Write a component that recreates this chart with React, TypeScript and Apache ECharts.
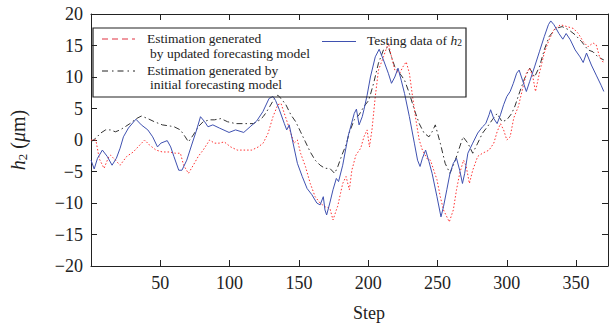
import React, { useEffect, useRef } from "react";
import * as echarts from "echarts";

const testSteps = [0, 2.3, 4.7, 8.2, 11.7, 15.2, 18.3, 21, 23.4, 27, 32.4, 36.3, 41, 44.5, 48, 50.4, 52.7, 55, 57.5, 59.8, 63.3, 65.6, 69.1, 72.6, 76.2, 79, 82, 84.4, 87.9, 92.6, 99.6, 104.3, 110.2, 114.8, 119.5, 124, 128.5, 131.3, 133.1, 135.9, 139.5, 141.2, 143, 145.3, 148.9, 152.4, 155.9, 159.4, 162.9, 165.3, 167.6, 168.8, 170, 172.3, 174.6, 177, 178.6, 181.6, 185.5, 189.9, 191.5, 193.4, 195.7, 196.9, 199.2, 201.6, 205.1, 207.9, 211, 214.5, 216.8, 219.2, 221.5, 223.8, 226.2, 229.7, 233.3, 235.6, 237.4, 239.1, 241.4, 243.8, 246.1, 249.6, 252.5, 254.3, 256.7, 259, 261.4, 263.7, 266, 268, 269.6, 271.9, 275.4, 279, 282.5, 284.8, 287.2, 288.3, 290.6, 293, 295.4, 297.7, 300, 302.4, 304.7, 307.1, 308.9, 311.3, 314.1, 316.5, 320, 323.5, 327, 330, 331.7, 334, 337.6, 340.4, 342.8, 345.8, 349.3, 352.8, 355.1, 357.5, 361, 364.5, 368, 370];
const testValues = [-3.2, -4.6, -2.9, -1.6, -2.6, -4, -2.9, -1.3, 0.5, 1.9, 3.3, 2.4, 1.6, 0.5, -1.1, -0.5, -0.3, -0.1, -1.1, -2.6, -4.8, -4.8, -3.2, -0.8, 1.6, 3.7, 2.9, 2.1, 2.4, 1.9, 1.2, 1.6, 1.2, 2.1, 3.0, 4.5, 6.6, 6.9, 6.3, 4.8, 2.6, 1.6, 2.4, 0, -3.7, -5.8, -7.7, -8.7, -10, -10.3, -9, -11.1, -11.9, -10, -7.9, -6.1, -6.6, -4.0, 0.6, 4.2, 4.9, 2.4, 3.7, 4.8, 7.1, 10, 13.2, 14.4, 12.7, 10.6, 9, 10, 11.4, 9.5, 7.4, 3.7, -0.5, -3.2, -4.2, -2.9, -1.6, -3.4, -5.3, -9, -12.2, -10.6, -7.9, -5.3, -3.7, -2.9, -4.8, -6.9, -5.3, -2.1, -0.5, 1.1, 2.1, 2.6, 4, 4.8, 3.4, 2.6, 4, 5.6, 6.9, 7.7, 9.0, 10.6, 11.1, 9.5, 7.7, 9.3, 11.6, 14, 16.4, 18.3, 18.9, 18.3, 16.9, 16, 16.9, 15.9, 14.3, 13.2, 12.3, 13.8, 11.9, 10.3, 8.7, 7.7];

const updatedSteps = [0, 3.5, 6, 9.4, 12.9, 14, 17.6, 21, 25.8, 30.5, 35.2, 38.7, 42.2, 46.9, 51.5, 56.3, 61, 64.5, 66.8, 70.3, 73.8, 77.4, 80.9, 85.6, 89, 92.6, 96.1, 100.8, 105.5, 110.2, 116, 120.7, 124.2, 127.8, 131.3, 134.8, 137.1, 139.5, 143, 146.5, 148.9, 151.2, 154.7, 158.2, 161.7, 165.3, 168.8, 172.3, 174.6, 177, 178, 180, 181.6, 184, 186.4, 188.2, 191.1, 194.6, 196.9, 199.2, 200.9, 202.7, 205.1, 207.4, 211, 214.5, 216.8, 219.2, 222.7, 225, 227.4, 229.7, 232, 234.4, 236.8, 239.1, 242.6, 244.9, 247.3, 249.6, 252, 254.3, 258.5, 261.4, 263.7, 266, 268.8, 270.7, 273, 275.4, 279, 282.5, 287.2, 290.6, 293, 295.4, 297.7, 300, 302.4, 305, 308.3, 311.8, 314.1, 316.5, 318.8, 320.7, 323.5, 327, 330.5, 334, 338.7, 343.4, 348.1, 351.6, 355.1, 358.6, 362.2, 364.5, 366.9, 370];
const updatedValues = [0, 0, -3, -4.5, -2.6, -2.4, -3.2, -4, -2.6, -1.9, -0.8, 0, -0.8, -1.6, -1.9, -1.9, -2.1, -2.1, -4, -5.3, -4, -2.6, -1.6, 0, -0.5, -0.5, -0.3, -1.1, -1.6, -1.6, -1.6, -1.1, -0.5, 1.1, 3.7, 5.6, 5.8, 4.2, 1.9, -0.5, 0, -2.1, -4.2, -6.9, -9, -10, -10.6, -10.8, -12.7, -11.1, -10.5, -8.5, -6.9, -5.8, -7.9, -4.8, -2.4, -1.3, 0.5, 1.6, -1.1, 1.6, 6.9, 11.1, 13.2, 15.4, 13.2, 11.1, 10.6, 11.6, 12.4, 10.6, 6.9, 3.2, 0, -1.6, -3, -3.2, -4.8, -6.3, -9, -11.1, -13, -11.1, -7.9, -5.3, -3.2, -4.2, -6.9, -4.8, -2.6, -2.1, -1.6, -0.5, 1.3, 2.6, 1.6, 0, 0.5, 3.5, 5.3, 8.5, 10.6, 11.4, 10, 7.7, 10.6, 13.8, 15.9, 17.5, 18.3, 18, 17.7, 16.9, 15.6, 14.8, 15.4, 15.1, 13.2, 12.2];

const initialSteps = [0, 3.5, 7, 10.5, 14, 17.6, 21, 24.6, 28.1, 32.8, 36.3, 41, 45.7, 51.5, 57.4, 60, 64.5, 68, 70.3, 73.8, 77.4, 80.9, 85.6, 89, 93.7, 98.5, 104.3, 110.2, 117.2, 121.9, 124.2, 126.5, 128.9, 132.4, 134.8, 137.1, 140.6, 144.2, 147.7, 151.2, 154.7, 158.2, 161.7, 165.3, 168.8, 172.3, 175.8, 178.1, 181, 184, 186.4, 189.9, 193.4, 196.9, 200.4, 203.9, 207.4, 211, 214.5, 216.8, 219.2, 222.7, 226.2, 229.7, 233.3, 236.8, 240.3, 243.8, 246.1, 248.4, 252, 255.5, 259, 262.5, 266, 268.4, 271.9, 275.4, 279, 282.5, 286, 289.5, 293, 296.6, 300, 303.5, 305.9, 309.4, 312.9, 316.5, 320, 323.5, 327, 330.5, 335.2, 339.9, 344.6, 349.3, 354, 358.6, 362.2, 365.7, 370];
const initialValues = [-0.3, 0.3, 1.1, 1.6, 1.6, 1.3, 1.6, 2.1, 2.6, 3.4, 3.8, 3.4, 2.9, 2.4, 2.2, 2.1, 1.6, 0.5, -0.3, 0.8, 2.1, 2.9, 3.2, 3.2, 3.4, 2.9, 2.6, 2.6, 2.6, 3.2, 3.7, 4.4, 5.3, 6.6, 7.1, 6.6, 5.6, 4, 2.9, 1.3, -0.3, -1.9, -3.2, -4, -4.5, -4.5, -5.3, -4.2, -2.4, -0.8, 1.2, 3.2, 4, 5.3, 6.3, 9, 12.2, 14.3, 14.8, 13.2, 11.6, 10.6, 9.5, 7.4, 4.8, 2.6, 1.1, 0.5, 1.3, 2.4, -0.5, -3.7, -5.3, -3.4, -1.1, 0.5, -0.5, -2.1, -0.5, 1.1, 2.1, 3.2, 4.2, 2.9, 3.2, 4.2, 5.4, 7.7, 9.8, 11.4, 10, 11.6, 14.3, 16.4, 17.7, 18, 17.5, 16.7, 15.6, 14.3, 14, 13.2, 12.7];

const xTickValues = [50, 100, 150, 200, 250, 300, 350];
const yMin = -20;
const yMax = 20;
const xMax = 373;

const FONT = "'Liberation Serif', 'DejaVu Serif', serif";

function pairs(xs: number[], ys: number[]) {
  return xs.map((x, i) => [x, ys[i]]);
}

function fmtY(v: number) {
  return v < 0 ? "\u2212" + Math.abs(v) : String(v);
}

export default function App() {
  const ref = useRef<HTMLDivElement>(null);
  useEffect(() => {
    document.body.style.margin = "0";
    document.body.style.overflow = "hidden";
    const chart = echarts.init(ref.current!, null, { renderer: "svg" });
    const axisLine = { show: true, onZero: false, lineStyle: { color: "#222", width: 1 } };
    const tick = { show: true, inside: true, length: 6, lineStyle: { color: "#222", width: 1 } };
    chart.setOption({
      animation: false,
      backgroundColor: "#fff",
      grid: { left: 85, top: 14, right: -5, bottom: 62, containLabel: false },
      xAxis: [
        {
          type: "value",
          min: 0,
          max: xMax,
          interval: 50,
          position: "bottom",
          axisLine,
          axisTick: tick,
          splitLine: { show: false },
          axisLabel: {
            margin: 8,
            fontFamily: FONT,
            fontSize: 18,
            color: "#222",
            formatter: (v: number) => (xTickValues.indexOf(v) >= 0 ? String(v) : ""),
          },
        },
        {
          type: "value",
          min: 0,
          max: xMax,
          interval: 50,
          position: "top",
          axisLine,
          axisTick: tick,
          splitLine: { show: false },
          axisLabel: { show: false },
        },
      ],
      yAxis: [
        {
          type: "value",
          min: yMin,
          max: yMax,
          interval: 5,
          position: "left",
          axisLine,
          axisTick: tick,
          splitLine: { show: false },
          axisLabel: { margin: 8, fontFamily: FONT, fontSize: 18, color: "#222", formatter: fmtY },
          name: "{i|h}{s|2} ({i|\u03bc}m)",
          nameLocation: "middle",
          nameRotate: 90,
          nameGap: 62,
          nameTextStyle: {
            fontFamily: FONT,
            fontSize: 20,
            color: "#222",
            rich: {
              i: { fontFamily: FONT, fontSize: 20, fontStyle: "italic", color: "#222" },
              s: { fontFamily: FONT, fontSize: 13, color: "#222", padding: [9, 0, 0, 0] },
            },
          },
        },
        {
          type: "value",
          min: yMin,
          max: yMax,
          interval: 5,
          position: "right",
          axisLine,
          axisTick: tick,
          splitLine: { show: false },
          axisLabel: { show: false },
        },
      ],
      series: [
        {
          type: "line",
          name: "Estimation generated by initial forecasting model",
          data: pairs(initialSteps, initialValues),
          showSymbol: false,
          symbol: "none",
          lineStyle: { color: "#333", width: 1, type: [6, 3, 1.5, 3] },
          z: 2,
        },
        {
          type: "line",
          name: "Estimation generated by updated forecasting model",
          data: pairs(updatedSteps, updatedValues),
          showSymbol: false,
          symbol: "none",
          lineStyle: { color: "#ff3030", width: 1, type: [1.5, 2] },
          z: 3,
        },
        {
          type: "line",
          name: "Testing data of h2",
          data: pairs(testSteps, testValues),
          showSymbol: false,
          symbol: "none",
          lineStyle: { color: "#3f51b0", width: 1 },
          z: 4,
        },
      ],
      graphic: [
        {
          type: "rect",
          shape: { x: 93, y: 28, width: 373, height: 69 },
          style: { fill: "none", stroke: "#222", lineWidth: 1.2 },
          z: 100,
        },
        {
          type: "line",
          shape: { x1: 102, y1: 39, x2: 135, y2: 39 },
          style: { stroke: "#e03040", lineWidth: 1, lineDash: [6, 4] },
          z: 101,
        },
        {
          type: "line",
          shape: { x1: 102, y1: 71, x2: 135, y2: 71 },
          style: { stroke: "#222", lineWidth: 1, lineDash: [6, 4, 1.5, 4] },
          z: 101,
        },
        {
          type: "line",
          shape: { x1: 322, y1: 41.5, x2: 356, y2: 41.5 },
          style: { stroke: "#3f51b0", lineWidth: 1 },
          z: 101,
        },
        {
          type: "text",
          x: 147,
          y: 38,
          style: { text: "Estimation generated", fontFamily: FONT, fontSize: 13.5, fill: "#222", verticalAlign: "middle" },
          z: 101,
        },
        {
          type: "text",
          x: 150,
          y: 53.5,
          style: { text: "by updated forecasting model", fontFamily: FONT, fontSize: 13.5, fill: "#222", verticalAlign: "middle" },
          z: 101,
        },
        {
          type: "text",
          x: 147,
          y: 70,
          style: { text: "Estimation generated by", fontFamily: FONT, fontSize: 13.5, fill: "#222", verticalAlign: "middle" },
          z: 101,
        },
        {
          type: "text",
          x: 150,
          y: 84.5,
          style: { text: "initial forecasting model", fontFamily: FONT, fontSize: 13.5, fill: "#222", verticalAlign: "middle" },
          z: 101,
        },
        {
          type: "text",
          x: 367,
          y: 40,
          style: {
            text: "Testing data of {i|h}{s|2}",
            fontFamily: FONT,
            fontSize: 13.5,
            fill: "#222",
            verticalAlign: "middle",
            rich: {
              i: { fontFamily: FONT, fontSize: 13.5, fontStyle: "italic", fill: "#222" },
              s: { fontFamily: FONT, fontSize: 9.5, fill: "#222", padding: [6, 0, 0, 0] },
            },
          },
          z: 101,
        },
        {
          type: "text",
          x: 369,
          y: 313,
          style: { text: "Step", fontFamily: FONT, fontSize: 18, fill: "#222", align: "center", verticalAlign: "middle" },
          z: 101,
        },
      ],
    });
    return () => chart.dispose();
  }, []);
  return <div ref={ref} style={{ width: 611, height: 328 }} />;
}
